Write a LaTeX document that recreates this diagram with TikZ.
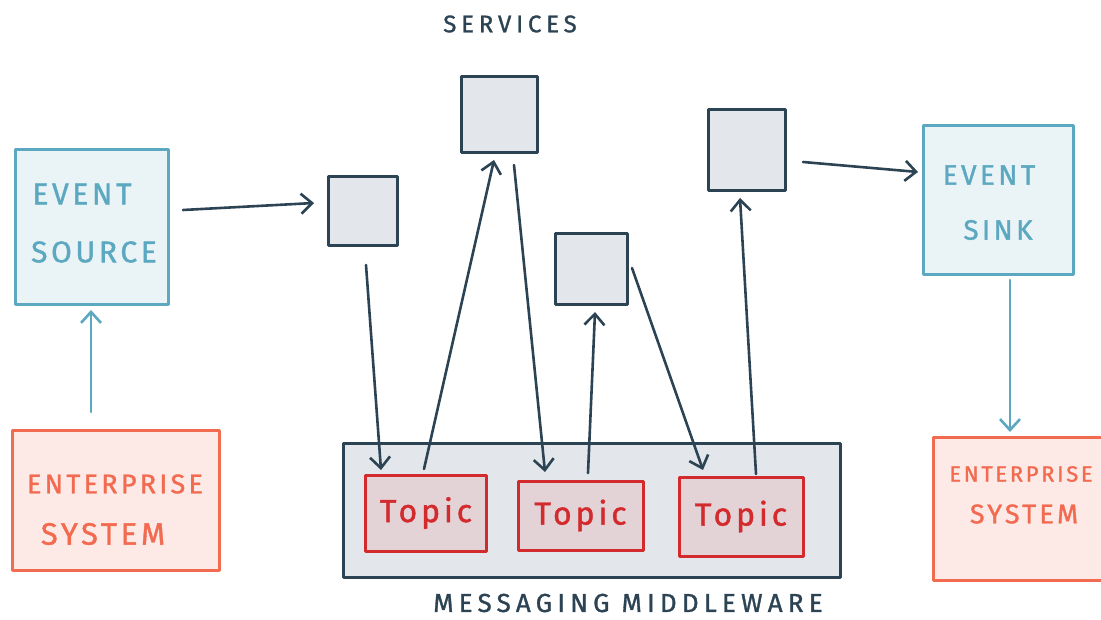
\documentclass[tikz,border=0pt]{standalone}
\usepackage{fontspec}
\setmainfont{Fira Sans}
\newfontfamily\handfont{Fira Sans}[LetterSpace=12,FakeBold=1.2]
\newfontfamily\wideHand{Fira Sans}[LetterSpace=20,FakeBold=1.2]
\usetikzlibrary{arrows.meta,calc}

\definecolor{tealline}{HTML}{5BA8C0}
\definecolor{tealfill}{HTML}{EAF4F7}
\definecolor{salmonline}{HTML}{F26A4F}
\definecolor{salmonfill}{HTML}{FDEAE7}
\definecolor{darkline}{HTML}{2C4354}
\definecolor{greyfill}{HTML}{E3E7EB}
\definecolor{topicline}{HTML}{D32A2E}
\definecolor{topicfill}{HTML}{E3D3D6}

\tikzset{
  sketchbox/.style={draw, line width=3pt, inner sep=0pt, outer sep=0pt, line join=round},
  tealbox/.style={sketchbox, draw=tealline, fill=tealfill},
  salmonbox/.style={sketchbox, draw=salmonline, fill=salmonfill},
  servicebox/.style={sketchbox, draw=darkline, fill=greyfill},
  middlewarebox/.style={sketchbox, draw=darkline, fill=greyfill},
  topicbox/.style={sketchbox, draw=topicline, fill=topicfill, text=topicline,
    font=\handfont\fontsize{32}{34}\selectfont},
  tealtext/.style={text=tealline, inner sep=0pt},
  salmontext/.style={text=salmonline, inner sep=0pt},
  darktext/.style={text=darkline, inner sep=0pt},
  flow/.style={line width=2.6pt, line cap=round, line join=round,
    -{Straight Barb[length=11pt,width=20pt,line width=2.6pt]}},
  flowdark/.style={flow, draw=darkline},
  flowteal/.style={flow, draw=tealline},
}

\begin{document}
\begin{tikzpicture}[x=1pt,y=-1pt]
\useasboundingbox (0,0) rectangle (1101,620);
\clip (0,0) rectangle (1101,620);

% systems at the edges
\node[tealbox, minimum width=153pt, minimum height=155pt] (src) at (91.5,227.5) {};
\node[salmonbox, minimum width=207pt, minimum height=140pt] (entl) at (115.5,500) {};
\node[tealbox, minimum width=150pt, minimum height=149pt] (sink) at (998,200.5) {};
\node[salmonbox, minimum width=182pt, minimum height=143pt] (entr) at (1024,508.5) {};

\node[tealtext, font=\handfont\fontsize{30}{32}\selectfont] (srcA) at (82,194) {EVENT};
\node[tealtext, font=\handfont\fontsize{30}{32}\selectfont] (srcB) at (94,252) {SOURCE};
\node[salmontext, font=\handfont\fontsize{27}{29}\selectfont] (entlA) at (115,484) {ENTERPRISE};
\node[salmontext, font=\handfont\fontsize{31}{33}\selectfont] (entlB) at (103,534) {SYSTEM};
\node[tealtext, font=\handfont\fontsize{28}{30}\selectfont] (sinkA) at (989,175) {EVENT};
\node[tealtext, font=\handfont\fontsize{28}{30}\selectfont] (sinkB) at (998,230) {SINK};
\node[salmontext, font=\handfont\fontsize{22}{24}\selectfont] (entrA) at (1021,474) {ENTERPRISE};
\node[salmontext, font=\handfont\fontsize{27}{29}\selectfont] (entrB) at (1024,514) {SYSTEM};

% messaging middleware with its topics
\node[middlewarebox, minimum width=497pt, minimum height=134pt] (mw) at (591.5,510) {};
\node[topicbox, minimum width=121pt, minimum height=76pt] (t1) at (426,513) {Topic};
\node[topicbox, minimum width=125pt, minimum height=69pt] (t2) at (580.5,515.5) {Topic};
\node[topicbox, minimum width=124pt, minimum height=79pt] (t3) at (741,516.5) {Topic};

% services
\node[servicebox, minimum width=69pt, minimum height=69pt] (s1) at (362.5,211.5) {};
\node[servicebox, minimum width=76pt, minimum height=76pt] (s2) at (499,115) {};
\node[servicebox, minimum width=72pt, minimum height=71pt] (s3) at (591,269.5) {};
\node[servicebox, minimum width=77pt, minimum height=81pt] (s4) at (746.5,150.5) {};

% captions
\node[darktext, font=\wideHand\fontsize{24}{26}\selectfont] (svcLabel) at (510,24) {SERVICES};
\node[darktext, font=\wideHand\fontsize{26}{28}\selectfont] (mwLabel) at (628,603) {MESSAGING MIDDLEWARE};

% connectors
\draw[flowteal] ($(entl.north)+(-24.5,-18)$) -- ($(src.south)+(-0.5,5)$);
\draw[flowdark] ($(src.east)+(15,-17.5)$) -- ($(s1.west)+(-14,-8.5)$);
\draw[flowdark] ($(s1.south)+(3.5,19)$) -- ($(t1.north)+(-45,-5)$);
\draw[flowdark] ($(t1.north)+(-2,-6)$) -- ($(s2.south)+(-5,7)$);
\draw[flowdark] ($(s2.south)+(15,12)$) -- ($(t2.north)+(-35.5,-9)$);
\draw[flowdark] ($(t2.north)+(7.5,-8)$) -- ($(s3.south)+(4,7)$);
\draw[flowdark] ($(s3.east)+(5,-1.5)$) -- ($(t3.north)+(-38,-7)$);
\draw[flowdark] ($(t3.north)+(15,-3)$) -- ($(s4.south)+(-6.5,7)$);
\draw[flowdark] ($(s4.east)+(18,11.5)$) -- ($(sink.west)+(-5,-28.5)$);
\draw[flowteal] ($(sink.south)+(12,5)$) -- ($(entr.north)+(-14,-5)$);
\end{tikzpicture}
\end{document}
